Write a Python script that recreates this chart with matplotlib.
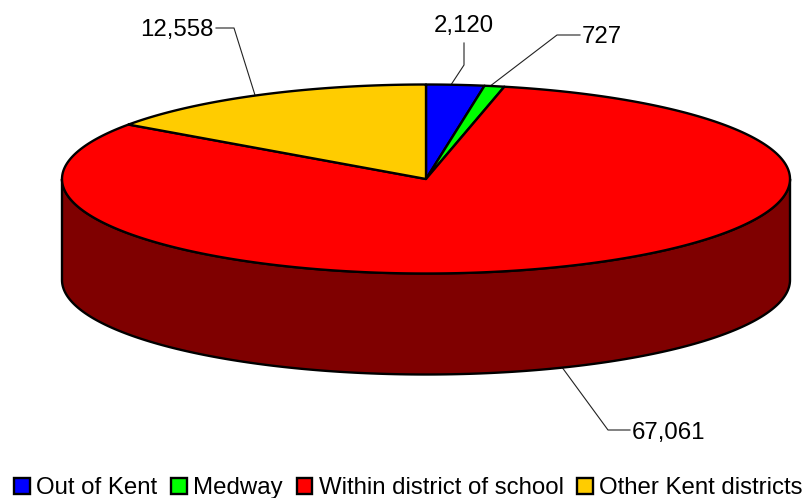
import numpy as np
from matplotlib import pyplot as plt
from matplotlib.patches import Patch

labels = ["Out of Kent", "Medway", "Within district of school", "Other Kent districts"]
values = [2120, 727, 67061, 12558]
value_text = ["2,120", "727", "67,061", "12,558"]
colors = ["#0000ff", "#00ff00", "#ff0000", "#ffcc00"]
side_colors = ["#00007f", "#007f00", "#7f0000", "#7f6600"]

# pie geometry in pixels
cx, cy = 426, 179
rx, ry = 364, 94.5
depth = 101

plt.rcParams['font.family'] = ['Liberation Sans', 'DejaVu Sans']

fig = plt.figure(figsize=(8.09, 4.98), dpi=100)
ax = fig.add_axes([0, 0, 1, 1])
ax.set_xlim(0, 809)
ax.set_ylim(498, 0)
ax.axis("off")


def rim(t):
    # t in degrees clockwise from 12 o'clock
    r = np.radians(t)
    return cx + rx * np.sin(r), cy - ry * np.cos(r)


fracs = np.array(values) / np.sum(values)
edges = np.concatenate(([0], np.cumsum(fracs) * 360))

# side wall, only the front half of the ellipse shows
for i in range(len(values)):
    a = max(edges[i], 90)
    b = min(edges[i + 1], 270)
    if a >= b:
        continue
    t = np.linspace(a, b, 200)
    x, y = rim(t)
    ax.fill(np.concatenate((x, x[::-1])), np.concatenate((y, y[::-1] + depth)),
            fc=side_colors[i], ec="black", lw=1.7, joinstyle="round", zorder=2)

# top faces
for i in range(len(values)):
    t = np.linspace(edges[i], edges[i + 1], 300)
    x, y = rim(t)
    ax.fill(np.concatenate(([cx], x)), np.concatenate(([cy], y)),
            fc=colors[i], ec="black", lw=1.7, joinstyle="round", zorder=3)

# value labels with leader lines
mid = (edges[:-1] + edges[1:]) / 2
fs = 17.3
lead = dict(color="#222222", lw=0.8, zorder=1)
for i, (txt, t) in enumerate(zip(value_text, mid)):
    px, py = rim(t)
    if i == 0:
        ax.plot([451, 464, 464], [py, 65, 43], **lead)
        ax.text(464, 25.5, txt, ha="center", va="center", fontsize=fs)
    elif i == 1:
        ax.plot([490, 557, 580], [py, 35, 35], **lead)
        ax.text(582, 36.5, txt, ha="left", va="center", fontsize=fs)
    elif i == 2:
        ax.plot([560, 608, 630], [cy + ry + depth - 10, 430, 430], **lead)
        ax.text(632, 432.5, txt, ha="left", va="center", fontsize=fs)
    else:
        ax.plot([255, 234, 216], [py, 28, 28], **lead)
        ax.text(214, 29.5, txt, ha="right", va="center", fontsize=fs)

handles = [Patch(fc=c, ec="black", lw=1.7) for c in colors]
fig.legend(handles, labels, loc="lower center", bbox_to_anchor=(0.505, -0.007), ncol=4, frameon=False,
           fontsize=fs, handlelength=0.66, handleheight=0.66, handletextpad=0.25,
           columnspacing=0.58, borderaxespad=0, borderpad=0.1)

fig.savefig("out.png", dpi=100)
